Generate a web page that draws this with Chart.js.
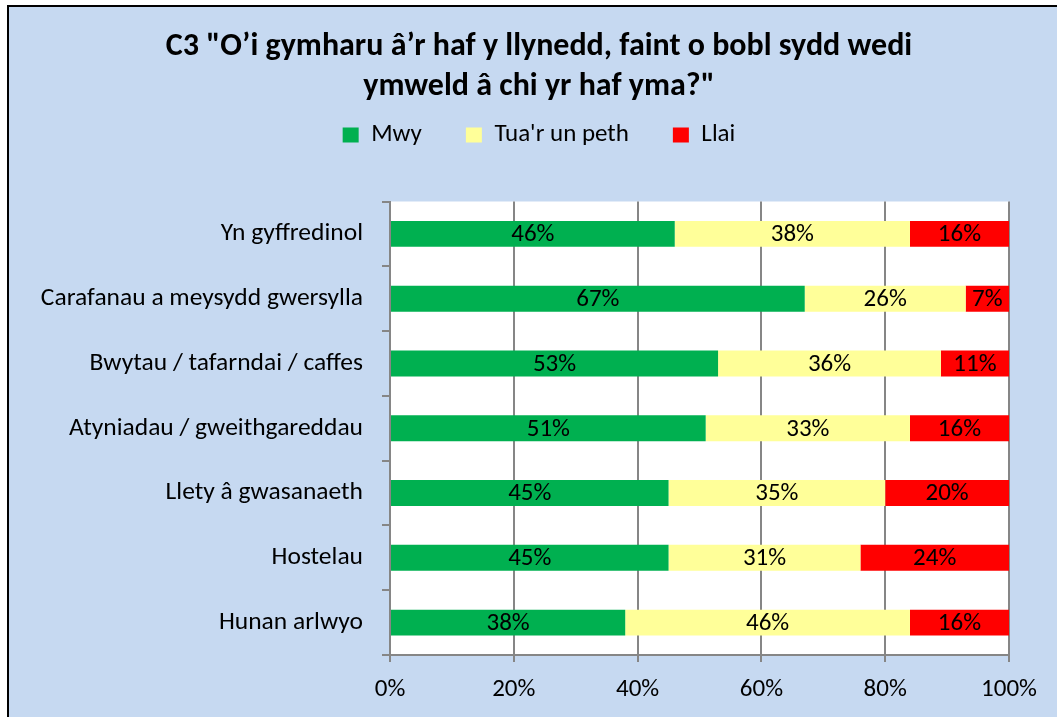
<!DOCTYPE html>
<html>
<head>
<meta charset="utf-8">
<script src="https://cdn.jsdelivr.net/npm/chart.js@4/dist/chart.umd.min.js"></script>
<style>
  html, body { margin:0; padding:0; background:#fff; overflow:hidden; }
  #frame { position:absolute; left:7px; top:5px; width:1200px; height:900px;
           border-left:2px solid #000; border-top:2px solid #000; background:#C6D9F1; }
  #wrap { position:absolute; left:0; top:0; width:1057px; height:717px; }
</style>
</head>
<body>
<div id="frame"></div>
<div id="wrap"><canvas id="chart"></canvas></div>
<script>
// --- data ---
const categories = [
  'Yn gyffredinol',
  'Carafanau a meysydd gwersylla',
  'Bwytau / tafarndai / caffes',
  'Atyniadau / gweithgareddau',
  'Llety â gwasanaeth',
  'Hostelau',
  'Hunan arlwyo'
];
const mwy      = [46, 67, 53, 51, 45, 45, 38];
const tuaRUn   = [38, 26, 36, 33, 35, 31, 46];
const llai     = [16, 7, 11, 16, 20, 24, 16];
const xTicks   = [0, 20, 40, 60, 80, 100];
const titleLines = ['C3 "O’i gymharu â’r haf y llynedd, faint o bobl sydd wedi', 'ymweld â chi yr haf yma?"'];

const FONT = 'Carlito';
const GREY = '#868686';

Chart.defaults.font.family = FONT;
Chart.defaults.font.size = 25;
Chart.defaults.color = '#000';

// white plot area
const plotBg = {
  id: 'plotBg',
  beforeDraw(chart) {
    const a = chart.chartArea, ctx = chart.ctx;
    ctx.save();
    ctx.fillStyle = '#fff';
    ctx.fillRect(a.left, a.top, a.right - a.left, a.bottom - a.top);
    ctx.restore();
  }
};

// the whole chart is wider than the crop: centre title + legend on it
const shiftHeader = {
  id: 'shiftHeader',
  afterLayout(chart) {
    [chart.titleBlock, chart.legend].forEach(b => {
      if (b) { b.left += 30.5; b.right += 30.5; }
    });
  }
};

// percentages in the middle of each segment
const pctLabels = {
  id: 'pctLabels',
  afterDatasetsDraw(chart) {
    const ctx = chart.ctx;
    ctx.save();
    ctx.font = '25px ' + FONT;
    ctx.fillStyle = '#000';
    ctx.textAlign = 'center';
    ctx.textBaseline = 'middle';
    chart.data.datasets.forEach((ds, i) => {
      chart.getDatasetMeta(i).data.forEach((bar, j) => {
        ctx.fillText(ds.data[j] + '%', (bar.x + bar.base) / 2, bar.y + 1);
      });
    });
    ctx.restore();
  }
};

new Chart(document.getElementById('chart'), {
  type: 'bar',
  data: {
    labels: categories,
    datasets: [
      { label: 'Mwy', data: mwy, backgroundColor: '#00B050' },
      { label: "Tua'r un peth", data: tuaRUn, backgroundColor: '#FFFF99' },
      { label: 'Llai', data: llai, backgroundColor: '#FF0000' }
    ]
  },
  options: {
    indexAxis: 'y',
    responsive: true,
    maintainAspectRatio: false,
    animation: false,
    datasets: { bar: { barPercentage: 0.4, categoryPercentage: 1, borderWidth: 0 } },
    layout: { padding: { left: 8, right: 48, top: 0, bottom: 0 } },
    plugins: {
      tooltip: { enabled: false },
      title: {
        display: true,
        text: titleLines,
        font: { size: 32, weight: 'bold', lineHeight: 1.25 },
        color: '#000',
        padding: { top: 27, bottom: -28.5 }
      },
      // empty spacer between legend and plot area
      subtitle: {
        display: true,
        text: '',
        weight: 500,
        font: { size: 1, lineHeight: 1 },
        padding: { top: 0, bottom: 43 }
      },
      legend: {
        position: 'top',
        labels: { boxWidth: 16, boxHeight: 15, padding: 44, font: { size: 25 } }
      }
    },
    scales: {
      x: {
        stacked: true,
        min: 0,
        max: 100,
        afterBuildTicks: s => { s.ticks = xTicks.map(v => ({ value: v })); },
        ticks: { callback: v => v + '%', padding: 13, maxRotation: 0 },
        grid: { color: GREY, lineWidth: 2, tickLength: 7 },
        border: { color: GREY, width: 2 },
        afterFit: s => { s.height = 62; }
      },
      y: {
        stacked: true,
        ticks: { padding: 19, font: { size: 25.5 } },
        grid: { drawOnChartArea: false, color: GREY, lineWidth: 2, tickLength: 8 },
        border: { color: GREY, width: 2 },
        afterFit: s => { s.width = 382; }
      }
    }
  },
  plugins: [plotBg, shiftHeader, pctLabels]
});
</script>
</body>
</html>
